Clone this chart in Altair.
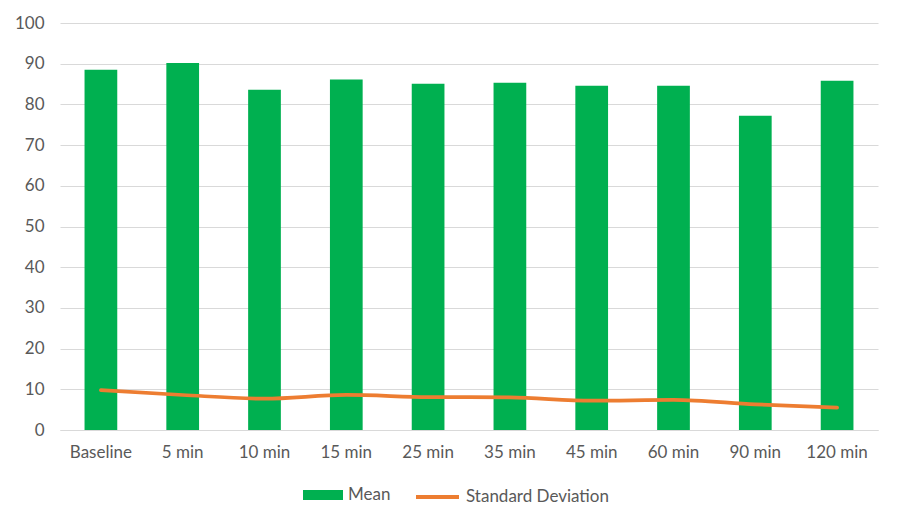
import altair as alt
import pandas as pd

categories = ["Baseline", "5 min", "10 min", "15 min", "25 min", "35 min", "45 min", "60 min", "90 min", "120 min"]
mean_values = [88.5, 90.2, 83.6, 86.1, 85.1, 85.3, 84.6, 84.6, 77.2, 85.8]
sd_values = [9.8, 8.6, 7.7, 8.6, 8.1, 8.0, 7.2, 7.4, 6.3, 5.5]
y_ticks = [0, 10, 20, 30, 40, 50, 60, 70, 80, 90, 100]

df = pd.DataFrame({"cat": categories, "mean": mean_values, "sd": sd_values})

FONT = "Lato"
TXT = "#595959"
GRID = "#d9d9d9"

xenc = alt.X(
    "cat:N",
    sort=categories,
    scale=alt.Scale(paddingInner=0.6, paddingOuter=0.3),
    axis=alt.Axis(title=None, labelAngle=0, ticks=False, domainColor=GRID,
                  labelPadding=14, grid=False),
)

bars = alt.Chart(df).transform_calculate(s1="'Mean'").mark_bar().encode(
    x=xenc,
    y=alt.Y("mean:Q", scale=alt.Scale(domain=[0, 100], nice=False),
            axis=alt.Axis(title=None, values=y_ticks, domain=False, ticks=False,
                          labelPadding=16, gridColor=GRID)),
    color=alt.Color("s1:N", scale=alt.Scale(domain=["Mean"], range=["#00B050"]),
                    legend=alt.Legend(title=None, orient="none", legendX=253, legendY=462,
                                      symbolType="M-2,-0.5H2V0.5H-2Z", symbolSize=400,
                                      symbolStrokeWidth=0, symbolOpacity=1,
                                      labelOffset=15, padding=0)),
)

line = alt.Chart(df).transform_calculate(s2="'Standard Deviation'").mark_line(
    strokeWidth=3.75, strokeCap="round", interpolate="monotone"
).encode(
    x=alt.X("cat:N", sort=categories, bandPosition=0.5),
    y=alt.Y("sd:Q"),
    stroke=alt.Stroke("s2:N", scale=alt.Scale(domain=["Standard Deviation"], range=["#ED7D31"]),
                      legend=alt.Legend(title=None, orient="none", legendX=365.5, legendY=462,
                                        symbolType="M-2.15,0H2.15", symbolSize=400,
                                        symbolStrokeWidth=4, labelOffset=16.5, padding=0)),
)

chart = alt.layer(bars, line).properties(
    width=818, height=407,
    autosize=alt.AutoSizeParams(type="none"),
    padding={"left": 52, "top": 15, "right": 16, "bottom": 89},
    background="white",
).configure_view(stroke=None).configure_axis(
    labelFont=FONT, labelFontSize=17, labelColor=TXT,
).configure_legend(
    labelFont=FONT, labelFontSize=17, labelColor=TXT,
)

chart.save("out.html", embed_options={"renderer": "svg", "actions": False})
